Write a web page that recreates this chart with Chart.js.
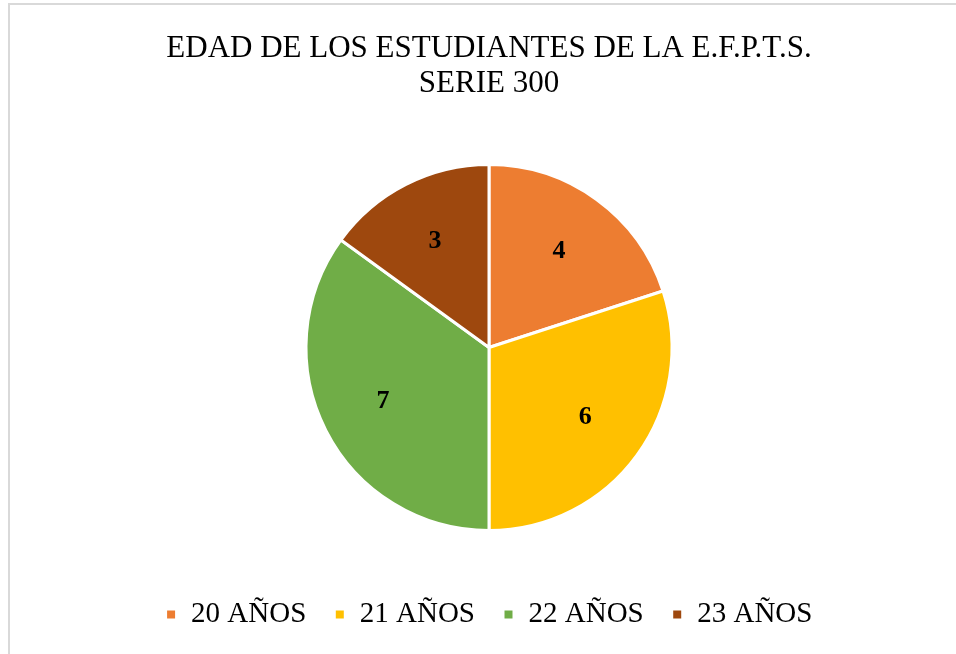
<!DOCTYPE html>
<html>
<head>
<meta charset="utf-8">
<script src="https://cdn.jsdelivr.net/npm/chart.js@4"></script>
<style>
  html, body { margin: 0; padding: 0; background: #ffffff; overflow: hidden; }
  body { width: 956px; height: 654px; position: relative; }
  #frame { position: absolute; left: 8px; top: 3px; width: 1000px; height: 700px; border: 2px solid #d9d9d9; box-sizing: border-box; }
  #wrap { position: absolute; left: 0; top: 0; width: 956px; height: 654px; }
</style>
</head>
<body>
<div id="frame"></div>
<div id="wrap"><canvas id="c" width="956" height="654"></canvas></div>
<script>
const titleLines = ['EDAD DE LOS ESTUDIANTES DE LA E.F.P.T.S.', 'SERIE 300'];
const categories = ['20 AÑOS', '21 AÑOS', '22 AÑOS', '23 AÑOS'];
const counts = [4, 6, 7, 3];
const sliceColors = ['#ED7D31', '#FFC000', '#70AD47', '#9E480E'];

const sliceLabels = {
  id: 'sliceLabels',
  afterDatasetsDraw(chart) {
    const ctx = chart.ctx;
    const meta = chart.getDatasetMeta(0);
    ctx.save();
    ctx.font = 'bold 26px "Liberation Serif", "Times New Roman", serif';
    ctx.fillStyle = '#000000';
    ctx.textAlign = 'center';
    ctx.textBaseline = 'middle';
    meta.data.forEach((arc, i) => {
      const p = arc.getProps(['x', 'y', 'startAngle', 'endAngle', 'outerRadius'], true);
      const mid = (p.startAngle + p.endAngle) / 2;
      const r = p.outerRadius * 0.65;
      ctx.fillText(String(chart.data.datasets[0].data[i]), p.x + Math.cos(mid) * r, p.y + Math.sin(mid) * r);
    });
    ctx.restore();
  }
};

new Chart(document.getElementById('c'), {
  type: 'pie',
  data: {
    labels: categories,
    datasets: [{
      data: counts,
      backgroundColor: sliceColors,
      borderColor: '#ffffff',
      borderWidth: 3,
      radius: 183
    }]
  },
  options: {
    responsive: false,
    animation: false,
    layout: { padding: { left: 22, right: 0, top: 0, bottom: 15 } },
    plugins: {
      title: {
        display: true,
        text: titleLines,
        color: '#000000',
        font: { family: '"Liberation Serif", "Times New Roman", serif', size: 31, weight: 'normal', lineHeight: 1.13 },
        padding: { top: 31, bottom: 22 }
      },
      legend: {
        position: 'bottom',
        labels: {
          color: '#000000',
          boxWidth: 11,
          boxHeight: 11,
          padding: 28,
          font: { family: '"Liberation Serif", "Times New Roman", serif', size: 29 }
        }
      },
      tooltip: { enabled: false }
    }
  },
  plugins: [sliceLabels]
});
</script>
</body>
</html>
